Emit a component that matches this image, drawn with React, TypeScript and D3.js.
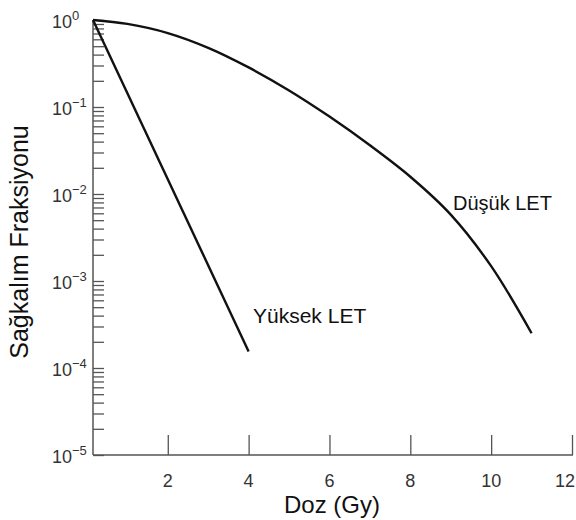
import React, { useRef, useEffect } from 'react';
import * as d3 from 'd3';

// dose (Gy) and surviving fraction
const lowLetDoses = [0.15, 1, 2, 3, 4, 5, 6, 7, 8, 9, 10, 11];
const lowLetSurvival = [1, 0.902, 0.708, 0.479, 0.285, 0.155, 0.0776, 0.0363, 0.0158, 0.0058, 0.00148, 0.000251];
const highLetDoses = [0.15, 4];
const highLetSurvival = [1, 0.000155];

const xTicks = [2, 4, 6, 8, 10, 12];
const yExponents = [0, -1, -2, -3, -4, -5];

const FONT = '"Liberation Sans", Arial, Helvetica, sans-serif';

const App = () => {
  const svgRef = useRef<SVGSVGElement>(null);

  useEffect(() => {
    const width = 576;
    const height = 520;
    const svg = d3.select(svgRef.current);
    svg.selectAll('*').remove();
    svg.attr('width', width).attr('height', height);

    const x = d3.scaleLinear().domain([0.15, 12]).range([93, 572]);
    const y = d3.scaleLog().domain([1e-5, 1]).range([455, 20]);

    const axisColor = '#555';
    const textColor = '#333';

    // y axis with inward log ticks
    const yAxis = d3.axisRight(y).tickSize(11).tickFormat(() => '');
    const gy = svg.append('g').attr('transform', `translate(${x(0.15)},0)`).call(yAxis);
    gy.select('.domain').attr('stroke', axisColor).attr('stroke-width', 1.5).attr('d', `M0,${y(1)}V${y(1e-5)}`);
    gy.selectAll('.tick line').attr('stroke', axisColor).attr('stroke-width', 1.3);

    // x axis with upward ticks
    const xAxis = d3.axisTop(x).tickValues(xTicks).tickSize(20).tickFormat(() => '');
    const gx = svg.append('g').attr('transform', `translate(0,${y(1e-5)})`).call(xAxis);
    gx.select('.domain').attr('stroke', axisColor).attr('stroke-width', 1.5).attr('d', `M${x(0.15)},0H${x(12) + 1}`);
    gx.selectAll('.tick line').attr('stroke', axisColor).attr('stroke-width', 1.3);

    // x tick labels
    svg.append('g')
      .selectAll('text')
      .data(xTicks)
      .enter()
      .append('text')
      .attr('x', d => Math.min(x(d), 565))
      .attr('y', 487)
      .attr('text-anchor', 'middle')
      .attr('font-family', FONT)
      .attr('font-size', 18)
      .attr('fill', textColor)
      .text(d => d);

    // y tick labels 10^n
    const yl = svg.append('g')
      .selectAll('text')
      .data(yExponents)
      .enter()
      .append('text')
      .attr('x', 52)
      .attr('y', d => y(Math.pow(10, d)) + 8)
      .attr('font-family', FONT)
      .attr('font-size', 18)
      .attr('fill', textColor);
    yl.append('tspan').text('10');
    yl.append('tspan')
      .attr('font-size', 13)
      .attr('dy', -8)
      .text(d => (d === 0 ? '0' : '\u2212' + Math.abs(d)));

    // axis titles
    svg.append('text')
      .attr('x', 332)
      .attr('y', 513)
      .attr('text-anchor', 'middle')
      .attr('font-family', FONT)
      .attr('font-size', 24)
      .attr('fill', '#111')
      .text('Doz (Gy)');

    svg.append('text')
      .attr('transform', `translate(28,242) rotate(-90)`)
      .attr('text-anchor', 'middle')
      .attr('font-family', FONT)
      .attr('font-size', 25)
      .attr('fill', '#111')
      .text('Sağkalım Fraksiyonu');

    // curves
    const line = d3.line<[number, number]>()
      .x(d => x(d[0]))
      .y(d => y(d[1]))
      .curve(d3.curveCatmullRom.alpha(0.5));

    const low: [number, number][] = lowLetDoses.map((d, i) => [d, lowLetSurvival[i]]);
    const high: [number, number][] = highLetDoses.map((d, i) => [d, highLetSurvival[i]]);

    [low, high].forEach(data => {
      svg.append('path')
        .attr('d', line(data))
        .attr('fill', 'none')
        .attr('stroke', '#111')
        .attr('stroke-width', 2.4);
    });

    // curve labels
    svg.append('text')
      .attr('x', 453)
      .attr('y', 210)
      .attr('font-family', FONT)
      .attr('font-size', 20)
      .attr('fill', '#111')
      .text('Düşük LET');

    svg.append('text')
      .attr('x', 253)
      .attr('y', 323)
      .attr('font-family', FONT)
      .attr('font-size', 21)
      .attr('fill', '#111')
      .text('Yüksek LET');
  }, []);

  return (
    <div style={{ position: 'absolute', left: 0, top: 0 }}>
      <svg ref={svgRef} style={{ display: 'block', background: '#fff' }}></svg>
    </div>
  );
};

export default App;
